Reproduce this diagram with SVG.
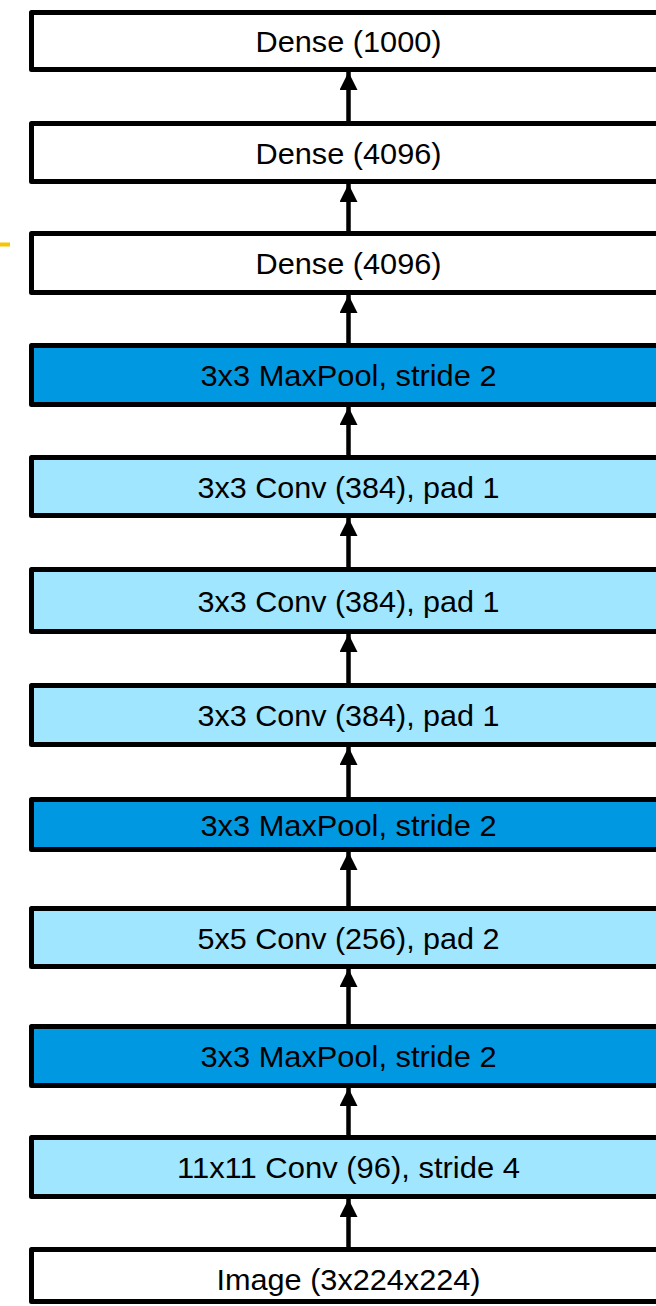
<svg xmlns="http://www.w3.org/2000/svg" width="656" height="1306" viewBox="0 0 656 1306">
<style>
.box{stroke:#000;stroke-width:5;stroke-linejoin:round}
.w{fill:#fff}
.l{fill:#A0E6FF}
.d{fill:#0099E1}
.t{font-family:"Liberation Sans",Arial,sans-serif;font-size:29px;fill:#000;text-anchor:middle}
.sh{stroke:#000;stroke-width:4.5}
</style>
<defs>
<marker id="ah" markerUnits="userSpaceOnUse" markerWidth="18" markerHeight="18" refX="18" refY="9" orient="auto" viewBox="0 0 18 18">
<path d="M0,0 L18,9 L0,18 Z" fill="#000"/>
</marker>
</defs>
<rect x="0" y="242.5" width="10" height="4" fill="#F7C600"/>
<g id="connectors">
<line class="sh" x1="348.5" y1="121" x2="348.5" y2="72" marker-end="url(#ah)"/>
<line class="sh" x1="348.5" y1="231" x2="348.5" y2="184" marker-end="url(#ah)"/>
<line class="sh" x1="348.5" y1="343" x2="348.5" y2="295" marker-end="url(#ah)"/>
<line class="sh" x1="348.5" y1="455" x2="348.5" y2="407" marker-end="url(#ah)"/>
<line class="sh" x1="348.5" y1="567" x2="348.5" y2="518" marker-end="url(#ah)"/>
<line class="sh" x1="348.5" y1="683" x2="348.5" y2="634" marker-end="url(#ah)"/>
<line class="sh" x1="348.5" y1="797" x2="348.5" y2="747" marker-end="url(#ah)"/>
<line class="sh" x1="348.5" y1="906" x2="348.5" y2="852" marker-end="url(#ah)"/>
<line class="sh" x1="348.5" y1="1024" x2="348.5" y2="969" marker-end="url(#ah)"/>
<line class="sh" x1="348.5" y1="1135" x2="348.5" y2="1088" marker-end="url(#ah)"/>
<line class="sh" x1="348.5" y1="1247" x2="348.5" y2="1199" marker-end="url(#ah)"/>
</g>
<g id="dense1000"><rect class="box w" x="31.5" y="12.5" width="680" height="57"/><text class="t" x="348.5" y="52" textLength="186" lengthAdjust="spacingAndGlyphs">Dense (1000)</text></g>
<g id="dense4096a"><rect class="box w" x="31.5" y="123.5" width="680" height="58"/><text class="t" x="348.5" y="163.5" textLength="186" lengthAdjust="spacingAndGlyphs">Dense (4096)</text></g>
<g id="dense4096b"><rect class="box w" x="31.5" y="233.5" width="680" height="59"/><text class="t" x="348.5" y="274" textLength="186" lengthAdjust="spacingAndGlyphs">Dense (4096)</text></g>
<g id="maxpool3"><rect class="box d" x="31.5" y="345.5" width="680" height="59"/><text class="t" x="348.5" y="386" textLength="296" lengthAdjust="spacingAndGlyphs">3x3 MaxPool, stride 2</text></g>
<g id="conv5"><rect class="box l" x="31.5" y="457.5" width="680" height="58"/><text class="t" x="348.5" y="497.5" textLength="302" lengthAdjust="spacingAndGlyphs">3x3 Conv (384), pad 1</text></g>
<g id="conv4"><rect class="box l" x="31.5" y="569.5" width="680" height="62"/><text class="t" x="348.5" y="611.5" textLength="302" lengthAdjust="spacingAndGlyphs">3x3 Conv (384), pad 1</text></g>
<g id="conv3"><rect class="box l" x="31.5" y="685.5" width="680" height="59"/><text class="t" x="348.5" y="726" textLength="302" lengthAdjust="spacingAndGlyphs">3x3 Conv (384), pad 1</text></g>
<g id="maxpool2"><rect class="box d" x="31.5" y="799.5" width="680" height="50"/><text class="t" x="348.5" y="835.5" textLength="296" lengthAdjust="spacingAndGlyphs">3x3 MaxPool, stride 2</text></g>
<g id="conv2"><rect class="box l" x="31.5" y="908.5" width="680" height="58"/><text class="t" x="348.5" y="948.5" textLength="302" lengthAdjust="spacingAndGlyphs">5x5 Conv (256), pad 2</text></g>
<g id="maxpool1"><rect class="box d" x="31.5" y="1026.5" width="680" height="59"/><text class="t" x="348.5" y="1067" textLength="296" lengthAdjust="spacingAndGlyphs">3x3 MaxPool, stride 2</text></g>
<g id="conv1"><rect class="box l" x="31.5" y="1137.5" width="680" height="59"/><text class="t" x="348.5" y="1178" textLength="343" lengthAdjust="spacingAndGlyphs">11x11 Conv (96), stride 4</text></g>
<g id="image"><rect class="box w" x="31.5" y="1249.5" width="680" height="52"/><text class="t" x="348.5" y="1290" textLength="264" lengthAdjust="spacingAndGlyphs">Image (3x224x224)</text></g>
</svg>
